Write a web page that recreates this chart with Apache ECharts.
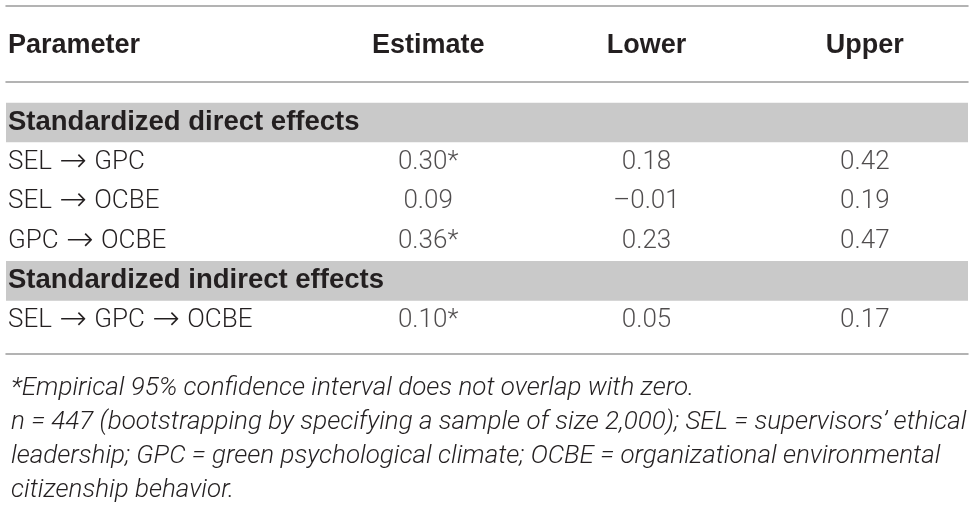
<!DOCTYPE html>
<html><head><meta charset="utf-8">
<script src="https://cdn.jsdelivr.net/npm/echarts@6/dist/echarts.min.js"></script>
<style>html,body{margin:0;padding:0;background:#fff}#c{width:974px;height:510px}</style>
</head><body><div id="c"></div>
<script>
// ---- data ----
const firstColumn = 'Parameter';
const valueColumns = ['Estimate', 'Lower', 'Upper'];
const rowLabels = ['Standardized direct effects', 'SEL \u2192 GPC', 'SEL \u2192 OCBE', 'GPC \u2192 OCBE', 'Standardized indirect effects', 'SEL \u2192 GPC \u2192 OCBE'];
const rowIsSection = [true, false, false, false, true, false];
const estimate = [null, 0.30, 0.09, 0.36, null, 0.10];
const significant = [false, true, false, true, false, true];
const lower = [null, 0.18, -0.01, 0.23, null, 0.05];
const upper = [null, 0.42, 0.19, 0.47, null, 0.17];
const footnotes = [
  '*Empirical 95% confidence interval does not overlap with zero.',
  'n = 447 (bootstrapping by specifying a sample of size 2,000); SEL = supervisors\u2019 ethical',
  'leadership; GPC = green psychological climate; OCBE = organizational environmental',
  'citizenship behavior.'
];

// ---- styles ----
const FONT = 'Roboto, "Liberation Sans", Arial, sans-serif';
const BOLD_FONT = '"Liberation Sans", Arial, sans-serif';
const TEXT = '#231f20';
const LINE = '#9a9a9a';
const BAND = '#c9c9c9';

function fmt(v) { return (v < 0 ? '\u2013' : '') + Math.abs(v).toFixed(2); }
const columnValues = [estimate, lower, upper];

const chart = echarts.init(document.getElementById('c'), null, {renderer: 'canvas'});

const gridTop = 102.7, rowH = 39.6;
const gridH = rowH * rowLabels.length;

function lineAxis(pos, off) {
  return {
    type: 'value', gridIndex: 0, min: 0, max: 1, position: pos, offset: off,
    axisLine: {show: true, onZero: false, lineStyle: {color: LINE, width: 1.5}},
    axisTick: {show: false}, axisLabel: {show: false}, splitLine: {show: false}
  };
}

const scatterSeries = valueColumns.map((col, ci) => ({
  type: 'scatter', xAxisIndex: 3, yAxisIndex: 1,
  symbol: 'circle', symbolSize: 1, itemStyle: {color: 'rgba(0,0,0,0)'}, silent: true,
  data: rowLabels.map((r, ri) => columnValues[ci][ri] == null ? null : {
    value: [col, r],
    label: {formatter: fmt(columnValues[ci][ri]) + (ci === 0 && significant[ri] ? '*' : '')}
  }).filter(d => d),
  label: {show: true, position: 'inside', fontFamily: FONT, fontWeight: 300, fontSize: 26, color: TEXT}
}));

chart.setOption({
  animation: false,
  title: {
    text: footnotes.join('\n'), left: 6, top: 366,
    textStyle: {fontFamily: FONT, fontStyle: 'italic', fontWeight: 300, fontSize: 26, lineHeight: 34, color: TEXT}
  },
  grid: [
    {left: 6, right: 6, top: gridTop, height: gridH},
    {left: 319, right: -2, top: gridTop, height: gridH}
  ],
  xAxis: [
    lineAxis('top', 21),
    lineAxis('top', 97),
    lineAxis('bottom', 13.7),
    {
      type: 'category', gridIndex: 1, data: valueColumns, position: 'top', offset: 21,
      axisLine: {show: false}, axisTick: {show: false}, splitLine: {show: false},
      axisLabel: {margin: 23, fontFamily: BOLD_FONT, fontWeight: 'bold', fontSize: 27, color: TEXT}
    }
  ],
  yAxis: [
    {
      type: 'category', gridIndex: 0, inverse: true, z: 10,
      data: rowLabels,
      name: firstColumn, nameLocation: 'start', nameGap: 44,
      nameTextStyle: {align: 'left', padding: [0, 0, 0, 2], fontFamily: BOLD_FONT, fontWeight: 'bold', fontSize: 27, color: TEXT},
      axisLine: {show: false}, axisTick: {show: false}, splitLine: {show: false},
      axisLabel: {
        inside: true, margin: 2, fontFamily: FONT, fontWeight: 300, fontSize: 26, color: TEXT,
        formatter: (v, i) => rowIsSection[i] ? '{b|' + v + '}' : v.replace(/\u2192/g, '{a|\u2192}'),
        rich: {
          a: {fontFamily: '"DejaVu Sans", sans-serif', fontWeight: 300, fontSize: 33, lineHeight: 26, verticalAlign: 'middle', color: TEXT, padding: [0, 1, 0, 1]},
          b: {fontFamily: BOLD_FONT, fontWeight: 'bold', fontSize: 27.5, color: TEXT}
        }
      }
    },
    {
      type: 'category', gridIndex: 1, inverse: true, data: rowLabels, show: false
    }
  ],
  series: [
    {
      type: 'bar', xAxisIndex: 0, yAxisIndex: 0, z: 0, silent: true,
      barWidth: '100%', itemStyle: {color: BAND},
      data: rowIsSection.map(s => s ? 1 : null)
    }
  ].concat(scatterSeries)
});
</script></body></html>
